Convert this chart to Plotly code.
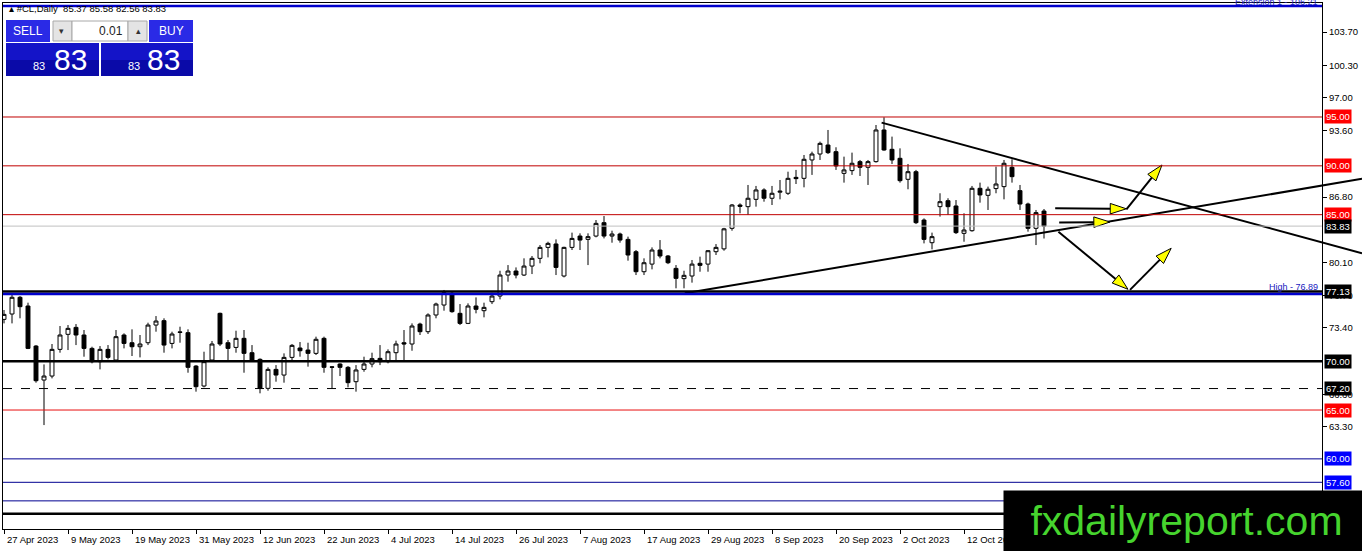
import pandas as pd
import plotly.graph_objects as go

# #CL daily bars, one per weekday starting 27 Apr 2023
opens = [74.28, 74.83, 76.54, 75.65, 71.55, 68.07, 68.48, 71.21, 72.75, 73.46,
         72.68, 71.31, 69.95, 71.21, 70.12, 72.68, 71.89, 71.48, 71.89, 73.70,
         74.15, 71.82, 73.00, 72.92, 69.50, 67.46, 70.12, 74.90, 71.89, 71.41,
         72.34, 70.87, 70.19, 67.22, 69.16, 68.58, 70.39, 71.35, 71.14, 70.80,
         72.34, 69.42, 69.71, 69.37, 67.90, 69.16, 69.71, 70.29, 69.95, 70.87,
         71.89, 71.76, 73.80, 73.02, 74.73, 75.75, 76.95, 74.90, 73.87, 75.65,
         75.17, 76.09, 76.67, 78.82, 79.23, 78.82, 79.74, 80.53, 81.65, 82.00,
         78.72, 81.65, 82.81, 82.47, 82.81, 84.18, 82.81, 83.02, 82.47, 81.21,
         79.16, 79.94, 81.38, 80.77, 79.50, 78.45, 78.72, 80.02, 79.94, 81.21,
         81.50, 83.60, 85.99, 85.82, 86.57, 87.53, 86.68, 87.30, 87.19, 88.82,
         88.72, 90.60, 91.21, 92.13, 91.45, 89.23, 89.51, 90.43, 89.85, 90.43,
         93.67, 91.69, 90.77, 88.62, 89.40, 84.45, 82.13, 85.82, 86.43, 85.89,
         83.09, 83.36, 87.70, 86.98, 87.67, 87.87, 89.85, 87.46, 86.09, 83.60,
         85.37]
highs = [75.24, 76.78, 76.67, 75.99, 71.65, 69.67, 71.76, 73.60, 73.70, 73.80,
         73.19, 71.48, 71.55, 71.65, 73.19, 72.85, 73.26, 72.68, 73.94, 74.62,
         74.39, 73.02, 73.53, 73.26, 69.60, 70.97, 72.07, 74.97, 72.17, 73.12,
         73.19, 71.65, 70.29, 69.37, 69.60, 70.80, 71.76, 71.96, 71.89, 72.51,
         72.51, 69.50, 69.78, 69.50, 69.60, 70.46, 70.87, 71.65, 71.21, 72.10,
         73.19, 73.87, 73.94, 74.90, 75.99, 77.29, 77.13, 75.85, 75.92, 76.53,
         75.99, 77.01, 79.26, 79.84, 79.60, 80.53, 80.77, 81.89, 82.23, 82.47,
         81.72, 83.16, 83.09, 83.09, 84.45, 84.86, 83.36, 83.16, 82.75, 81.38,
         80.53, 81.65, 82.40, 80.87, 79.84, 79.26, 80.36, 80.70, 81.38, 81.99,
         83.65, 86.09, 86.16, 88.04, 87.94, 87.70, 87.94, 88.55, 89.40, 89.58,
         91.11, 91.45, 92.48, 93.67, 91.90, 90.94, 91.35, 90.60, 90.60, 94.18,
         94.97, 92.99, 91.79, 90.19, 89.58, 84.62, 83.16, 87.19, 86.68, 86.50,
         85.14, 87.94, 88.28, 87.87, 89.92, 90.60, 90.67, 88.04, 86.23, 85.48,
         85.58]
lows = [73.87, 73.87, 74.39, 71.24, 67.80, 63.46, 68.24, 70.87, 71.14, 71.65,
        70.46, 69.78, 69.16, 70.19, 69.95, 71.31, 70.53, 70.39, 71.65, 73.02,
        70.87, 71.31, 71.89, 68.82, 66.88, 67.32, 69.95, 71.55, 69.95, 70.87,
        68.82, 69.95, 66.71, 66.98, 67.90, 67.80, 69.95, 70.46, 69.44, 70.63,
        68.82, 67.22, 68.48, 67.32, 66.88, 68.92, 69.37, 69.60, 69.78, 70.12,
        69.95, 71.07, 72.68, 72.78, 74.39, 75.17, 74.96, 73.70, 73.80, 74.90,
        74.49, 75.85, 76.33, 78.14, 78.48, 78.72, 78.92, 80.02, 80.63, 78.82,
        78.58, 81.38, 81.38, 79.84, 82.68, 82.57, 82.13, 82.13, 80.29, 78.82,
        78.82, 79.40, 80.53, 79.94, 77.46, 77.46, 78.04, 79.16, 79.16, 80.87,
        81.31, 83.36, 85.14, 84.97, 85.82, 86.33, 85.99, 86.57, 87.02, 88.14,
        87.80, 89.07, 90.60, 91.21, 89.58, 88.28, 89.07, 88.96, 88.04, 90.33,
        91.55, 90.19, 88.28, 87.60, 84.04, 82.06, 81.45, 84.80, 84.97, 83.02,
        82.23, 83.26, 86.23, 85.48, 87.19, 86.57, 88.28, 85.48, 83.26, 81.89,
        82.56]
closes = [74.79, 76.54, 75.58, 71.31, 68.00, 68.48, 71.21, 72.68, 73.36, 72.68,
          71.31, 69.95, 71.21, 70.39, 72.51, 71.82, 71.48, 71.76, 73.70, 74.11,
          71.65, 72.78, 72.95, 69.37, 67.39, 69.95, 71.76, 71.76, 71.31, 72.34,
          70.80, 70.12, 67.22, 69.16, 68.58, 70.39, 71.62, 71.07, 70.80, 72.24,
          69.37, 69.38, 69.37, 67.80, 69.10, 69.71, 70.26, 69.95, 70.97, 71.76,
          71.76, 73.60, 73.02, 74.73, 75.85, 77.01, 75.07, 73.87, 75.65, 75.31,
          75.51, 76.67, 78.82, 79.23, 78.82, 79.74, 80.53, 81.65, 82.06, 79.60,
          81.65, 82.57, 82.40, 82.75, 84.11, 82.81, 83.02, 82.40, 80.87, 79.16,
          80.08, 81.38, 80.77, 80.08, 78.48, 78.79, 79.94, 79.81, 81.31, 81.65,
          83.55, 85.99, 85.85, 86.68, 87.53, 86.68, 87.19, 87.40, 88.72, 88.69,
          90.67, 91.21, 92.30, 91.35, 89.99, 89.58, 90.26, 89.85, 90.43, 93.67,
          91.62, 90.60, 88.48, 89.40, 84.18, 82.47, 82.75, 86.33, 85.82, 83.16,
          83.43, 87.70, 87.02, 87.60, 88.14, 90.26, 88.89, 86.09, 83.60, 85.21,
          83.83]

first_day = "2023-04-27"
label_step = 8

# price-scale ticks; the ones hidden under the level boxes are left out
tick_prices = [103.7, 100.3, 97.0, 93.6, 86.8, 80.1, 76.7, 73.4, 66.6, 63.3]

# horizontal objects on the chart
red_levels = [95.0, 90.0, 85.0]
red_low_levels = [65.0]
bid_levels = [83.83]
black_thick_levels = [77.13, 70.0, 54.38]
blue_thick_levels = [106.36, 76.89]
dashed_levels = [67.2]
blue_thin_levels = [60.0, 57.6, 55.7]

red_boxes = [95.0, 90.0, 85.0, 65.0]
black_boxes = [83.83, 77.13, 70.0, 67.2]
blue_boxes = [60.0, 57.6]

high_label = 76.89
extension_label = 106.21

# trend lines (bar index, price)
down_x = [109.7, 169.75]
down_y = [94.42, 81.05]
up_x = [85.1, 169.75]
up_y = [76.95, 88.67]

# scenario arrows: start and end (bar index, price)
arrow_x0 = [131.4, 140.3, 131.9, 131.8, 140.75]
arrow_y0 = [85.65, 85.55, 84.20, 83.26, 77.30]
arrow_x1 = [140.3, 144.75, 138.25, 140.5, 145.9]
arrow_y1 = [85.60, 90.09, 84.25, 77.36, 81.56]

n = len(closes)
idx = list(range(n))
dates = pd.bdate_range(first_day, periods=n)

FONT = "Liberation Sans"
Y_RANGE = [52.82, 106.67]
X_RANGE = [-0.125, 164.75]
X2_RANGE = [-0.125, 169.75]
DOMAIN_END = 1319 / 1359


def px(x):
    return (x - 3) / 1359


def py(y):
    return (529 - y) / 526


fig = go.Figure()

fig.add_trace(go.Candlestick(
    x=idx, open=opens, high=highs, low=lows, close=closes,
    increasing=dict(fillcolor="white", line=dict(color="black", width=1)),
    decreasing=dict(fillcolor="black", line=dict(color="black", width=1)),
    whiskerwidth=0, hoverinfo="skip",
))

# trend lines on a full-width overlay so they run past the price scale
for lx, ly in [(down_x, down_y), (up_x, up_y)]:
    fig.add_trace(go.Scatter(
        x=lx, y=ly, xaxis="x2", yaxis="y2", mode="lines",
        line=dict(color="black", width=2), hoverinfo="skip",
    ))

for x0, y0, x1, y1 in zip(arrow_x0, arrow_y0, arrow_x1, arrow_y1):
    fig.add_trace(go.Scatter(
        x=[x0, x1], y=[y0, y1], xaxis="x2", yaxis="y2", mode="lines+markers",
        line=dict(color="black", width=2),
        marker=dict(symbol=["circle", "arrow"], size=[0, 17], opacity=[0, 1],
                    color="#ffff00", angleref="previous",
                    line=dict(color="black", width=1)),
        hoverinfo="skip",
    ))

shapes = []


def hline(price, color, width, dash="solid"):
    shapes.append(dict(type="line", xref="x domain", yref="y", x0=0, x1=1,
                       y0=price, y1=price, line=dict(color=color, width=width, dash=dash)))


for p in red_levels:
    hline(p, "#c00000", 1)
for p in red_low_levels:
    hline(p, "#e81010", 1)
for p in bid_levels:
    hline(p, "#c0c0c0", 1)
for p in black_thick_levels:
    hline(p, "black", 2.5)
for p in blue_thick_levels:
    hline(p, "#0000cc", 2.5)
for p in dashed_levels:
    hline(p, "black", 1, "dash")
for p in blue_thin_levels:
    hline(p, "#000090", 1)


# one-click trading panel
def rect(x0, y0, x1, y1, fill, line="rgba(0,0,0,0)"):
    shapes.append(dict(type="rect", xref="paper", yref="paper",
                       x0=px(x0), x1=px(x1), y0=py(y0), y1=py(y1),
                       fillcolor=fill, line=dict(color=line, width=1), layer="above"))


rect(6, 20, 50, 42, "#2a2ae6")
rect(149, 20, 193, 42, "#2a2ae6")
rect(53, 21, 72, 41, "#e4e4e4", "#a8a8a8")
rect(72, 21, 128, 41, "white", "#a8a8a8")
rect(128, 21, 147, 41, "#e4e4e4", "#a8a8a8")
rect(6, 43, 99, 76, "#1414c8")
rect(101, 43, 193, 76, "#1414c8")
rect(6, 60, 99, 76, "#0a0aa8")
rect(101, 60, 193, 76, "#0a0aa8")

annotations = []


def ptext(x, y, text, size, color="black", xanchor="center", family=FONT):
    annotations.append(dict(xref="paper", yref="paper", x=px(x), y=py(y), text=text,
                            showarrow=False, xanchor=xanchor, yanchor="middle",
                            font=dict(family=family, size=size, color=color)))


last_o, last_h, last_l, last_c = opens[-1], highs[-1], lows[-1], closes[-1]
big, small = f"{last_c:.2f}".split(".")
ptext(7, 9, f"▴ #CL,Daily  {last_o:.2f} {last_h:.2f} {last_l:.2f} {last_c:.2f}", 9.5, xanchor="left")
ptext(28, 31, "SELL", 12, "white")
ptext(171, 31, "BUY", 12, "white")
ptext(62, 31, "▾", 9, "#333333")
ptext(138, 31, "▴", 9, "#333333")
ptext(125, 31, "0.01", 12, "#222222", xanchor="right")
ptext(39, 66, big, 11, "white")
ptext(70, 60, small, 30, "white")
ptext(134, 66, big, 11, "white")
ptext(163, 60, small, 30, "white")

# price-scale boxes
for boxes, bg in [(red_boxes, "#ff0000"), (black_boxes, "black"), (blue_boxes, "#0000ff")]:
    for p in boxes:
        annotations.append(dict(xref="paper", yref="y", x=DOMAIN_END, y=p, xshift=2,
                                text=f"{p:.2f}", showarrow=False, xanchor="left",
                                yanchor="middle", bgcolor=bg, borderpad=1,
                                font=dict(family=FONT, size=9.5, color="white")))

annotations.append(dict(xref="paper", yref="y", x=DOMAIN_END, y=high_label, xshift=-2,
                        text=f"High - {high_label:.2f}", showarrow=False, xanchor="right",
                        yanchor="bottom", font=dict(family=FONT, size=9, color="#2020c0")))
annotations.append(dict(xref="paper", yref="paper", x=DOMAIN_END, y=py(1.5), xshift=-2,
                        text=f"Extension 1 - {extension_label:.2f}", showarrow=False,
                        xanchor="right", yanchor="middle",
                        font=dict(family=FONT, size=9, color="#2020c0")))

# date labels start at their tick, MetaTrader style
for i in range(0, n, label_step):
    d = dates[i]
    annotations.append(dict(xref="x", yref="paper", x=i, y=py(539), xshift=1,
                            text=f"{d.day} {d.strftime('%b %Y')}", showarrow=False,
                            xanchor="left", yanchor="middle",
                            font=dict(family=FONT, size=9.5, color="black")))

# watermark box
annotations.append(dict(xref="paper", yref="paper", x=px(1003), y=py(490),
                        xanchor="left", yanchor="top", width=365, height=60,
                        text="fxdailyreport.com", showarrow=False, bgcolor="black",
                        borderpad=0, align="center", valign="middle",
                        font=dict(family=FONT, size=41, color="#46d42e")))

fig.update_layout(
    width=1362, height=551,
    margin=dict(l=3, r=0, t=3, b=22),
    paper_bgcolor="white", plot_bgcolor="rgba(0,0,0,0)",
    showlegend=False, hovermode=False, boxgap=0.3,
    shapes=shapes, annotations=annotations,
    xaxis=dict(domain=[0, DOMAIN_END], range=X_RANGE,
               tickvals=list(range(0, n, label_step)), showticklabels=False,
               ticks="outside", ticklen=4, tickcolor="black",
               showline=True, linecolor="black", linewidth=1, mirror=True,
               showgrid=False, zeroline=False, rangeslider=dict(visible=False)),
    yaxis=dict(range=Y_RANGE, side="right", tickvals=tick_prices, tickformat=".2f",
               ticks="outside", ticklen=4, tickcolor="black",
               tickfont=dict(family=FONT, size=9.5, color="black"),
               showline=True, linecolor="black", linewidth=1, mirror=True,
               showgrid=False, zeroline=False),
    xaxis2=dict(domain=[0, 1], range=X2_RANGE, anchor="y2", visible=False),
    yaxis2=dict(domain=[0, 1], range=Y_RANGE, anchor="x2", visible=False),
)

fig.write_html("out.html", config={"displayModeBar": False},
               post_script="document.body.style.margin='0';")
